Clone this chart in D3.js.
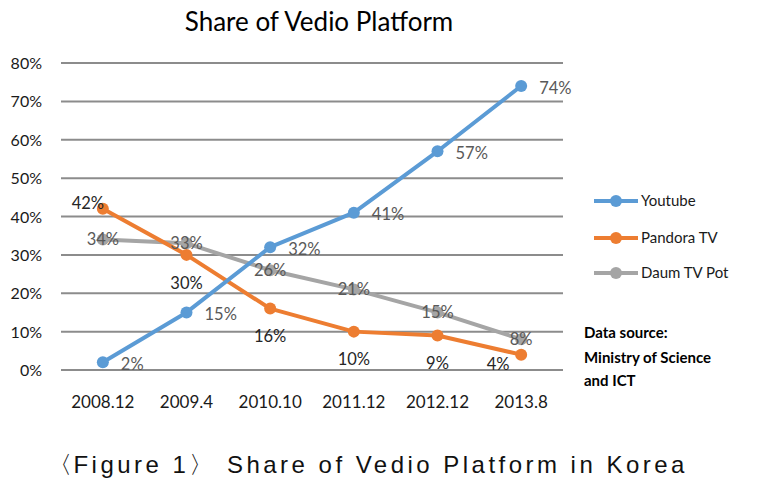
<!DOCTYPE html>
<html><head><meta charset="utf-8">
<script src="https://cdn.jsdelivr.net/npm/d3@7/dist/d3.min.js"></script>
<style>body{margin:0;background:#fff}</style>
</head><body>
<svg id="c" width="760" height="480"></svg>
<script>
const categories = ["2008.12","2009.4","2010.10","2011.12","2012.12","2013.8"];
const youtube = [2,15,32,41,57,74];
const pandora = [42,30,16,10,9,4];
const daum = [34,33,26,21,15,8];
const yTicks = [0,10,20,30,40,50,60,70,80];
const seriesNames = ["Youtube","Pandora TV","Daum TV Pot"];

const svg = d3.select("#c");
const font = "Lato, 'Open Sans', sans-serif";
const x = d3.scaleBand().domain(categories).range([61,563]);
const y = d3.scaleLinear().domain([0,80]).range([370,63]);
const cx = c => x(c) + x.bandwidth()/2;

// grid
svg.append("g").selectAll("line").data(yTicks).join("line")
  .attr("x1",61).attr("x2",563).attr("y1",d=>y(d)).attr("y2",d=>y(d))
  .attr("stroke","#8c8c8c").attr("stroke-width",2);
// y labels
const yAxis = d3.axisLeft(y).tickValues(yTicks).tickFormat(d=>d+"%").tickSize(0).tickPadding(0);
const ga = svg.append("g").attr("transform","translate(42,0)").call(yAxis);
ga.select(".domain").remove();
ga.selectAll("text").attr("font-family",font).attr("font-size",16).attr("fill","#1a1a1a").attr("dy","0.35em");
// x labels
const xAxis = d3.axisBottom(x).tickSize(0).tickPadding(0);
const gx = svg.append("g").attr("transform","translate(0,402)").call(xAxis);
gx.select(".domain").remove();
gx.selectAll("text").attr("font-family",font).attr("font-size",17).attr("fill","#1a1a1a").attr("dy","0.35em");

const colors = ["#5B9BD5","#ED7D31","#A5A5A5"];
const allSeries = [youtube,pandora,daum];
const line = d3.line().x((d,i)=>cx(categories[i])).y(d=>y(d));
[2,1,0].forEach(s=>{
  svg.append("path").datum(allSeries[s]).attr("d",line).attr("fill","none")
    .attr("stroke",colors[s]).attr("stroke-width",4).attr("stroke-linejoin","round");
  svg.append("g").selectAll("circle").data(allSeries[s]).join("circle")
    .attr("cx",(d,i)=>cx(categories[i])).attr("cy",d=>y(d)).attr("r",6).attr("fill",colors[s]);
});

// labels
const lblFont = 16.5;
function lab(s, fn, fill){
  svg.append("g").selectAll("text").data(allSeries[s]).join("text")
    .each(function(d,i){
      const o = fn(d,i);
      d3.select(this).attr("x",cx(categories[i])+o[0]).attr("y",y(d)+o[1])
        .attr("text-anchor",o[2]).attr("dy","0.35em");
    })
    .attr("font-family",font).attr("font-size",lblFont).attr("fill",fill)
    .text(d=>d+"%");
}
lab(2,(d,i)=>[0,0,"middle"],"#595959");
lab(1,(d,i)=> i===0 ? [-15,-6,"middle"] : (i===5 ? [-23,10,"middle"] : [0,28,"middle"]),"#262626");
lab(0,(d,i)=>[18,2,"start"],"#595959");

// title
svg.append("text").attr("x",319).attr("y",31).attr("text-anchor","middle")
  .attr("font-family",font).attr("font-size",26).attr("fill","#000").text("Share of Vedio Platform");

// legend
const lg = svg.append("g");
seriesNames.forEach((n,i)=>{
  const yy = [201,238,273][i];
  lg.append("line").attr("x1",594).attr("x2",638).attr("y1",yy).attr("y2",yy).attr("stroke",colors[i]).attr("stroke-width",4);
  lg.append("circle").attr("cx",616).attr("cy",yy).attr("r",6).attr("fill",colors[i]);
  lg.append("text").attr("x",641).attr("y",yy).attr("dy","0.35em").attr("font-family",font)
    .attr("font-size",15).attr("fill","#1a1a1a").text(n);
});
// data source
["Data source:","Ministry of Science","and ICT"].forEach((t,i)=>{
  svg.append("text").attr("x",584).attr("y",[333,358,381][i]).attr("dy","0.35em")
    .attr("font-family",font).attr("font-weight","bold").attr("font-size",15).attr("fill","#000").text(t);
});
// caption: the full original string, with the space after the closing bracket kept
const cap = svg.append("text").attr("x",48).attr("y",473)
  .attr("font-family","'Liberation Sans', Arial, sans-serif").attr("font-size",24).attr("fill","#111");
cap.append("tspan").text("〈");
cap.append("tspan").attr("dx",-2).text("Figure 1");
cap.append("tspan").text("〉 ");
cap.append("tspan").text("Share of Vedio Platform in Korea");
const nChars = "〈Figure 1〉 Share of Vedio Platform in Korea".length;
const w0 = cap.node().getBBox().width;
const ls = (637 - w0) / (nChars - 1);
cap.attr("letter-spacing", ls);
</script>
</body></html>
